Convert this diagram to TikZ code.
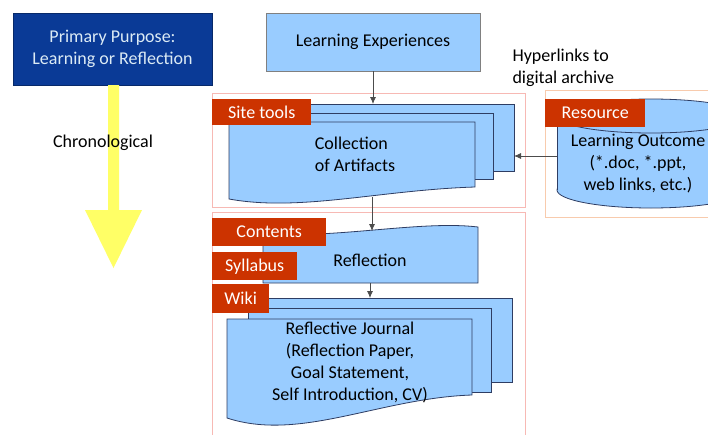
\documentclass[tikz,border=0pt]{standalone}
\usepackage{fontspec}
\setmainfont{Carlito}
\usetikzlibrary{arrows.meta}

\definecolor{boxblue}{HTML}{99CCFF}
\definecolor{navy}{HTML}{0A3A96}
\definecolor{navytext}{HTML}{DCEBF5}
\definecolor{tagred}{HTML}{CC3300}
\definecolor{pageline}{HTML}{2E3D63}
\definecolor{framepink}{HTML}{F7B9B4}
\definecolor{frameorange}{HTML}{F8CBAD}
\definecolor{chrono}{HTML}{FFFF66}

\begin{document}
\begin{tikzpicture}[x=1pt,y=-1pt]
    \tikzstyle{every node}=[font=\fontsize{18}{22}\selectfont]
    \tikzstyle{tag}=[fill=tagred, text=white, inner sep=0pt, anchor=north west]
    \tikzstyle{page}=[fill=boxblue, draw=pageline, line width=0.8pt]
    \tikzstyle{frame}=[draw=framepink, line width=0.8pt]
    \tikzstyle{flow}=[-{Latex[length=7pt,width=6pt]}, line width=0.8pt, draw=black!70]

    \clip (0,0) rectangle (708,434);
    \fill[white] (0,0) rectangle (708,434);

    % groups
    \draw[frame] (212,93) rectangle (525,207);
    \draw[frame] (212,212) rectangle (525,440);
    \draw[frame, draw=frameorange] (545,90) rectangle (715,217);

    % left column
    \node[draw=navy!70!black, fill=navy, text=navytext, minimum width=199, minimum height=72, align=center] (purpose) at (112.5,49) {Primary Purpose:\\Learning or Reflection};
    \fill[chrono] (108,85) -- (119,85) -- (119,210) -- (142,210) -- (113.5,268) -- (85,210) -- (108,210) -- cycle;
    \node (time) at (103,143) {Chronological};

    \node[draw=gray, fill=boxblue, line width=0.8pt, minimum width=214, minimum height=58] (exp) at (373,42) {Learning Experiences};
    \node[align=left, anchor=west] (links) at (509,67.5) {Hyperlinks to\\digital archive};

    % collection of artifacts
    \draw[page] (252,104) rectangle (514,171);
    \draw[page] (240,113) rectangle (493,179);
    \draw[page] (229,122) -- (475,122) -- (475,187) .. controls (380,190) and (300,212) .. (229,199) -- cycle;
    \node[align=left] (coll) at (355,154) {Collection\\of Artifacts};
    \node[tag, minimum width=99, minimum height=26] (sitetools) at (212,99) {Site tools};

    % archive
    \draw[page] (651,190) ellipse [x radius=94, y radius=18];
    \fill[boxblue] (557,116) rectangle (745,190);
    \draw[page] (651,116) ellipse [x radius=94, y radius=17];
    \draw[pageline, line width=0.8pt] (557,116) -- (557,190) (745,116) -- (745,190);
    \node[align=center] (outcome) at (638,164) {Learning Outcome\\(*.doc, *.ppt,\\web links, etc.)};
    \node[tag, minimum width=100, minimum height=28] (resource) at (545,99) {Resource};

    % reflection
    \draw[page] (263,233) .. controls (330,240) and (420,220) .. (478,227) -- (478,283) -- (263,283) -- cycle;
    \node (refl) at (370,260) {Reflection};
    \node[tag, minimum width=114, minimum height=28] (contents) at (212,218) {Contents};
    \node[tag, minimum width=85, minimum height=28] (syllabus) at (212,252) {Syllabus};

    % journal
    \draw[page] (268,298) rectangle (512,382);
    \draw[page] (248,308) rectangle (491,392);
    \draw[page] (227,319) -- (472,319) -- (472,395) .. controls (380,398) and (300,442) .. (227,418) -- cycle;
    \node[align=center] (journal) at (350,362) {Reflective Journal\\(Reflection Paper,\\Goal Statement,\\Self Introduction, CV)};
    \node[tag, minimum width=57, minimum height=29] (wiki) at (212,284) {Wiki};

    % connectors
    \coordinate (colltop) at (373,104);
    \coordinate (collbot) at (372,197);
    \coordinate (refltop) at (372,231);
    \coordinate (reflbot) at (370,283);
    \coordinate (jtop) at (370,298);
    \coordinate (archive) at (557,156);
    \coordinate (collin) at (514,156);
    \draw[flow] (exp.south) -- (colltop);
    \draw[flow] (collbot) -- (refltop);
    \draw[flow] (reflbot) -- (jtop);
    \draw[flow] (archive) -- (collin);
\end{tikzpicture}
\end{document}
